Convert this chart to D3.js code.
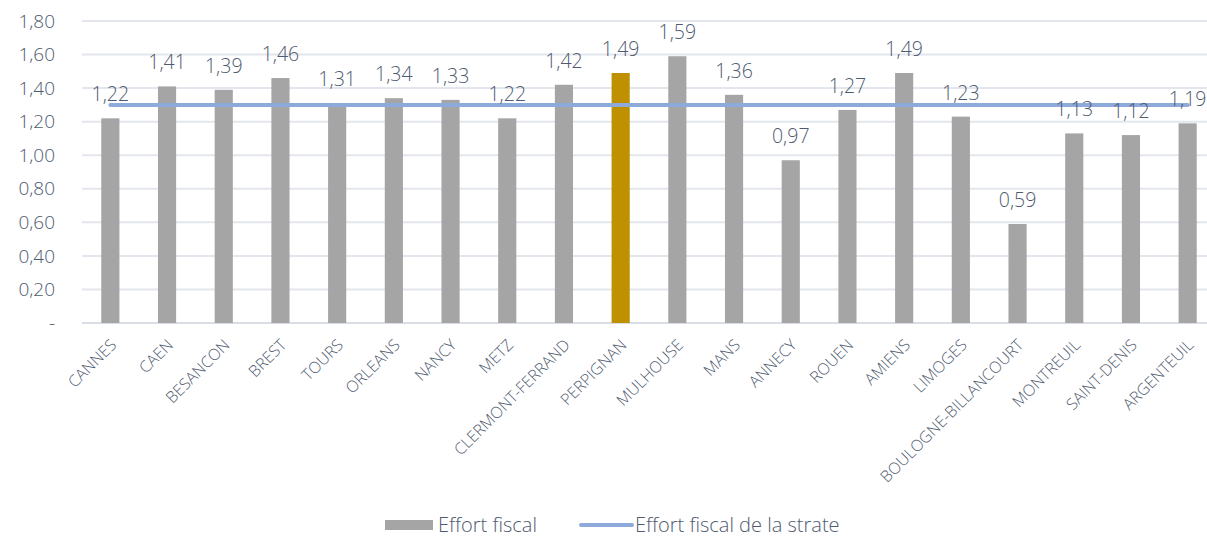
<!DOCTYPE html>
<html>
<head>
<meta charset="utf-8">
<script src="https://cdn.jsdelivr.net/npm/d3@7"></script>
<style>
  body { margin: 0; background: #fff; }
  text { font-family: "Open Sans", sans-serif; font-weight: 300; fill: #4f5b70; }
</style>
</head>
<body>
<div id="chart"></div>
<script>
var cities = ['CANNES', 'CAEN', 'BESANCON', 'BREST', 'TOURS', 'ORLEANS', 'NANCY', 'METZ',
  'CLERMONT-FERRAND', 'PERPIGNAN', 'MULHOUSE', 'MANS', 'ANNECY', 'ROUEN', 'AMIENS',
  'LIMOGES', 'BOULOGNE-BILLANCOURT', 'MONTREUIL', 'SAINT-DENIS', 'ARGENTEUIL'];
var effort = [1.22, 1.41, 1.39, 1.46, 1.31, 1.34, 1.33, 1.22, 1.42, 1.49, 1.59, 1.36,
  0.97, 1.27, 1.49, 1.23, 0.59, 1.13, 1.12, 1.19];
var strate = 1.30;
var highlight = 'PERPIGNAN';
var yTicks = [0, 0.2, 0.4, 0.6, 0.8, 1.0, 1.2, 1.4, 1.6, 1.8];

var width = 1207, height = 537;
var fmt = function (v) { return v === 0 ? '-' : v.toFixed(2).replace('.', ','); };

var svg = d3.select('#chart').append('svg')
  .attr('width', width).attr('height', height);

var x = d3.scaleBand().domain(cities).range([82, 1216]).paddingInner(0.68).paddingOuter(0.34);
var y = d3.scaleLinear().domain([0, 1.8]).range([323, 21]);

// gridlines
svg.append('g').selectAll('line')
  .data(yTicks)
  .enter().append('line')
  .attr('x1', 82).attr('x2', width)
  .attr('y1', function (d) { return y(d); })
  .attr('y2', function (d) { return y(d); })
  .attr('stroke', function (d) { return d === 0 ? '#d9dde5' : '#e3e6ec'; })
  .attr('stroke-width', 2);

// y labels
svg.append('g').selectAll('text')
  .data(yTicks)
  .enter().append('text')
  .attr('x', 55)
  .attr('y', function (d) { return y(d); })
  .attr('dy', '0.35em')
  .attr('text-anchor', 'end')
  .style('font-size', '19px')
  .text(fmt);

// bars
svg.append('g').selectAll('rect')
  .data(cities)
  .enter().append('rect')
  .attr('x', function (d) { return x(d); })
  .attr('width', x.bandwidth())
  .attr('y', function (d, i) { return y(effort[i]); })
  .attr('height', function (d, i) { return y(0) - y(effort[i]); })
  .attr('fill', function (d) { return d === highlight ? '#bf9000' : '#a5a5a5'; });

// strate line
var cx = function (d) { return x(d) + x.bandwidth() / 2; };
svg.append('line')
  .attr('x1', cx(cities[0])).attr('x2', cx(cities[cities.length - 1]))
  .attr('y1', y(strate)).attr('y2', y(strate))
  .attr('stroke', '#8eaadb').attr('stroke-width', 4).attr('stroke-linecap', 'round');

// data labels
svg.append('g').selectAll('text')
  .data(cities)
  .enter().append('text')
  .attr('x', cx)
  .attr('y', function (d, i) { return y(effort[i]) - 17; })
  .attr('text-anchor', 'middle')
  .style('font-size', '19.5px')
  .text(function (d, i) { return fmt(effort[i]); });

// x labels
svg.append('g').selectAll('text')
  .data(cities)
  .enter().append('text')
  .attr('transform', function (d) { return 'translate(' + (cx(d) + 7) + ',346) rotate(-45)'; })
  .attr('text-anchor', 'end')
  .style('font-size', '16px')
  .text(function (d) { return d; });

// legend
var lg = svg.append('g');
lg.append('rect').attr('x', 385).attr('y', 520).attr('width', 48).attr('height', 10).attr('fill', '#a5a5a5');
lg.append('text').attr('x', 438).attr('y', 532).style('font-size', '20px').text('Effort fiscal');
lg.append('line').attr('x1', 581).attr('x2', 632).attr('y1', 525).attr('y2', 525)
  .attr('stroke', '#8eaadb').attr('stroke-width', 4).attr('stroke-linecap', 'round');
lg.append('text').attr('x', 635).attr('y', 532).style('font-size', '20px').text('Effort fiscal de la strate');
</script>
</body>
</html>
